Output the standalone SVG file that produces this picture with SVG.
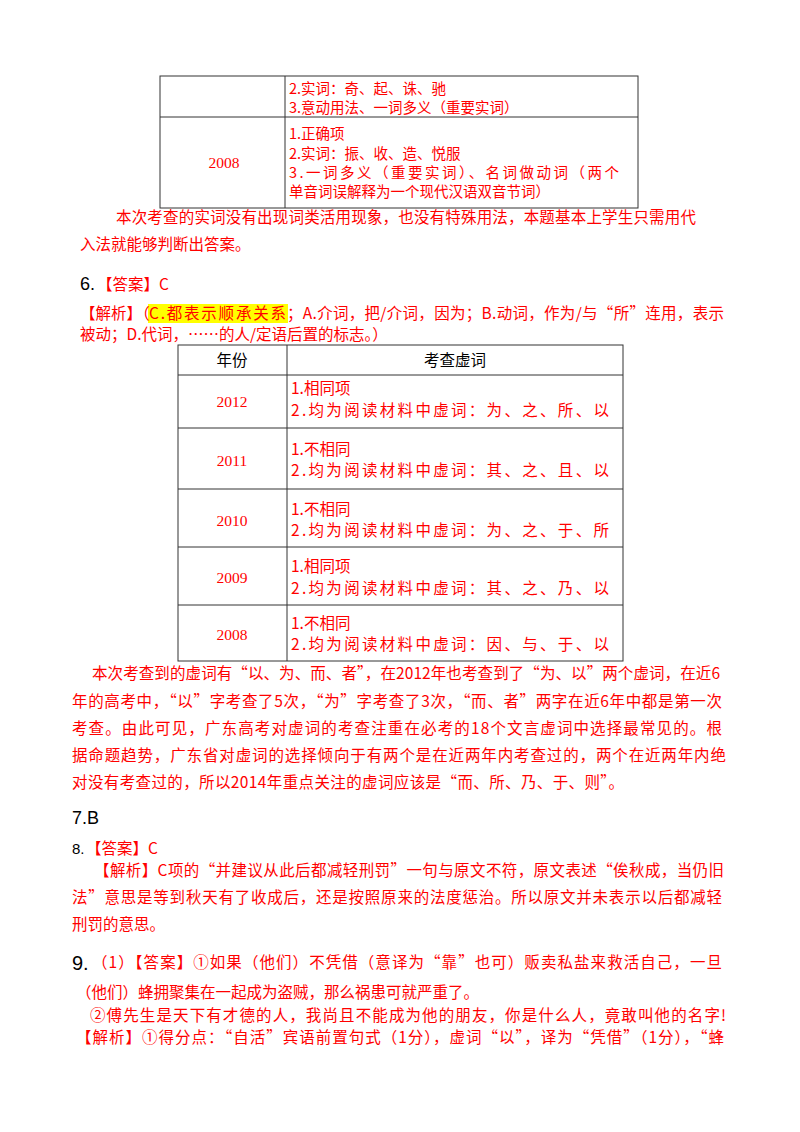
<svg xmlns="http://www.w3.org/2000/svg" width="800" height="1132" viewBox="0 0 800 1132">
<style>
text{font-family:"Noto Sans CJK SC","Liberation Serif",serif;font-size:15.5px;fill:#ff0000}
.k{fill:#000}
.t{font-size:14.5px}
.n{font-family:"Liberation Serif","Noto Sans CJK SC",serif}
.big{font-family:"Liberation Sans","Noto Sans CJK SC",sans-serif;font-size:18px;fill:#000}
.ln{stroke:#333;stroke-width:1;fill:none}
</style>
<rect width="800" height="1132" fill="#fff"/>
<g id="table1">
<rect class="ln" x="160" y="76" width="478" height="132"/>
<line class="ln" x1="285" y1="76" x2="285" y2="208"/>
<line class="ln" x1="160" y1="117" x2="638" y2="117"/>
<text class="t" x="289" y="94">2.实词：奇、起、诛、驰</text>
<text class="t" x="289" y="113">3.意动用法、一词多义（重要实词）</text>
<text x="224" y="168" text-anchor="middle" class="n">2008</text>
<text class="t" x="289" y="139">1.正确项</text>
<text class="t" x="289" y="159">2.实词：振、收、造、悦服</text>
<text class="t" x="289" y="178" textLength="330" lengthAdjust="spacing">3.一词多义（重要实词）、名词做动词（两个</text>
<text class="t" x="289" y="197">单音词误解释为一个现代汉语双音节词）</text>
</g>
<text x="116" y="223" textLength="580" lengthAdjust="spacing">本次考查的实词没有出现词类活用现象，也没有特殊用法，本题基本上学生只需用代</text>
<text x="80" y="250">入法就能够判断出答案。</text>
<text x="80" y="290" class="big">6.</text><text x="97" y="290">【答案】C</text>
<rect x="148" y="304" width="140" height="19" fill="#ffff00"/>
<text x="80" y="319">【解析】（</text>
<text x="149" y="319" textLength="137" lengthAdjust="spacing">C.都表示顺承关系</text>
<text x="287" y="319" textLength="437" lengthAdjust="spacing">；A.介词，把/介词，因为；B.动词，作为/与“所”连用，表示</text>
<text x="80" y="340">被动；D.代词，……的人/定语后置的标志。）</text>
<g id="table2">
<rect class="ln" x="178" y="345" width="445" height="316"/>
<line class="ln" x1="287" y1="345" x2="287" y2="661"/>
<line class="ln" x1="178" y1="375" x2="623" y2="375"/>
<line class="ln" x1="178" y1="428" x2="623" y2="428"/>
<line class="ln" x1="178" y1="489" x2="623" y2="489"/>
<line class="ln" x1="178" y1="547" x2="623" y2="547"/>
<line class="ln" x1="178" y1="605" x2="623" y2="605"/>
<text x="232" y="366" text-anchor="middle" class="k">年份</text>
<text x="455" y="366" text-anchor="middle" class="k">考查虚词</text>
<text x="232" y="407" text-anchor="middle" class="n">2012</text>
<text x="291" y="394">1.相同项</text><text x="291" y="416" textLength="318" lengthAdjust="spacing">2.均为阅读材料中虚词：为、之、所、以</text>
<text x="232" y="466" text-anchor="middle" class="n">2011</text>
<text x="291" y="455">1.不相同</text><text x="291" y="476" textLength="318" lengthAdjust="spacing">2.均为阅读材料中虚词：其、之、且、以</text>
<text x="232" y="526" text-anchor="middle" class="n">2010</text>
<text x="291" y="515">1.不相同</text><text x="291" y="536" textLength="318" lengthAdjust="spacing">2.均为阅读材料中虚词：为、之、于、所</text>
<text x="232" y="583" text-anchor="middle" class="n">2009</text>
<text x="291" y="572">1.相同项</text><text x="291" y="594" textLength="318" lengthAdjust="spacing">2.均为阅读材料中虚词：其、之、乃、以</text>
<text x="232" y="640" text-anchor="middle" class="n">2008</text>
<text x="291" y="629">1.不相同</text><text x="291" y="650" textLength="318" lengthAdjust="spacing">2.均为阅读材料中虚词：因、与、于、以</text>
</g>
<text x="92" y="679" textLength="628" lengthAdjust="spacing">本次考查到的虚词有“以、为、而、者”，在2012年也考查到了“为、以”两个虚词，在近6</text>
<text x="72" y="707" textLength="650" lengthAdjust="spacing">年的高考中，“以”字考查了5次，“为”字考查了3次，“而、者”两字在近6年中都是第一次</text>
<text x="72" y="734" textLength="650" lengthAdjust="spacing">考查。由此可见，广东高考对虚词的考查注重在必考的18个文言虚词中选择最常见的。根</text>
<text x="72" y="761" textLength="654" lengthAdjust="spacing">据命题趋势，广东省对虚词的选择倾向于有两个是在近两年内考查过的，两个在近两年内绝</text>
<text x="72" y="788" textLength="552" lengthAdjust="spacing">对没有考查过的，所以2014年重点关注的虚词应该是“而、所、乃、于、则”。</text>
<text x="72" y="824" class="big">7.B</text>
<text x="72" y="854" class="big" style="font-size:15px">8.</text><text x="86" y="854">【答案】C</text>
<text x="94" y="876" textLength="630" lengthAdjust="spacing">【解析】C项的“并建议从此后都减轻刑罚”一句与原文不符，原文表述“俟秋成，当仍旧</text>
<text x="72" y="903" textLength="650" lengthAdjust="spacing">法”意思是等到秋天有了收成后，还是按照原来的法度惩治。所以原文并未表示以后都减轻</text>
<text x="72" y="930">刑罚的意思。</text>
<text x="72" y="970" class="big" style="font-size:20px">9.</text>
<text x="92" y="968" textLength="630" lengthAdjust="spacing">（1）【答案】①如果（他们）不凭借（意译为“靠”也可）贩卖私盐来救活自己，一旦</text>
<text x="76" y="998">（他们）蜂拥聚集在一起成为盗贼，那么祸患可就严重了。</text>
<text x="90" y="1021" textLength="636" lengthAdjust="spacing">②傅先生是天下有才德的人，我尚且不能成为他的朋友，你是什么人，竟敢叫他的名字!</text>
<text x="76" y="1043" textLength="648" lengthAdjust="spacing">【解析】①得分点：“自活”宾语前置句式（1分），虚词“以”，译为“凭借”（1分），“蜂</text>
</svg>
